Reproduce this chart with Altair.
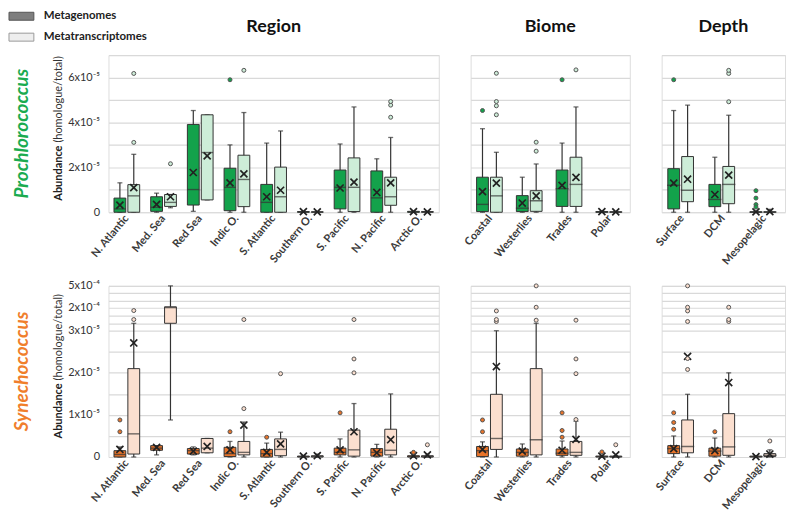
import altair as alt
import pandas as pd
import numpy as np

UNIT = 1e-5  # all box values below are in units of 1e-5 (homologue/total)

REGION = ["N. Atlantic", "Med. Sea", "Red Sea", "Indic O.", "S. Atlantic",
          "Southern O.", "S. Pacific", "N. Pacific", "Arctic O."]
BIOME = ["Coastal", "Westerlies", "Trades", "Polar"]
DEPTH = ["Surface", "DCM", "Mesopelagic"]
GROUP_NAMES = ["Region", "Biome", "Depth"]
TYPES = ["Metagenomes", "Metatranscriptomes"]
SPECIES = ["Prochlorococcus", "Synechococcus"]

# (low whisker, Q1, median, Q3, high whisker, mean)
PRO_METAG = {
    "N. Atlantic": (0, 0, 0.15, 0.63, 1.31, 0.32),
    "Med. Sea": (0, 0.04, 0.22, 0.69, 0.85, 0.35),
    "Red Sea": (0.04, 0.32, 1.01, 3.91, 4.53, 1.77),
    "Indic O.": (0, 0.07, 1.11, 1.96, 3.0, 1.31),
    "S. Atlantic": (0, 0, 0.44, 1.24, 3.08, 0.69),
    "Southern O.": (0, 0, 0.01, 0.03, 0.04, 0.03),
    "S. Pacific": (0, 0.15, 1.11, 1.88, 3.04, 1.08),
    "N. Pacific": (0, 0, 0.64, 1.84, 2.38, 0.88),
    "Arctic O.": (0, 0, 0.01, 0.04, 0.05, 0.03),
    "Coastal": (0, 0.03, 0.35, 1.56, 3.72, 0.92),
    "Westerlies": (0, 0.03, 0.18, 0.74, 1.56, 0.41),
    "Trades": (0, 0.26, 1.05, 1.88, 3.08, 1.2),
    "Polar": (0, 0, 0.01, 0.03, 0.05, 0.03),
    "Surface": (0, 0.15, 1.2, 1.94, 4.53, 1.3),
    "DCM": (0, 0.25, 0.57, 1.24, 2.45, 0.79),
    "Mesopelagic": (0, 0, 0.005, 0.02, 0.04, 0.02),
}
PRO_METAT = {
    "N. Atlantic": (0, 0, 0.73, 1.23, 2.58, 1.1),
    "Med. Sea": (0.2, 0.26, 0.44, 0.79, 0.79, 0.69),
    "Red Sea": (0.55, 0.55, 2.66, 4.34, 4.34, 2.51),
    "Indic O.": (0, 0.25, 1.46, 2.54, 4.44, 1.71),
    "S. Atlantic": (0, 0, 0.69, 2.01, 3.62, 0.98),
    "Southern O.": (0, 0, 0.01, 0.02, 0.03, 0.02),
    "S. Pacific": (0, 0.03, 1.11, 2.42, 4.69, 1.34),
    "N. Pacific": (0, 0.31, 0.69, 1.56, 3.33, 1.31),
    "Arctic O.": (0, 0, 0.01, 0.03, 0.04, 0.02),
    "Coastal": (0, 0, 0.73, 1.56, 2.67, 1.3),
    "Westerlies": (0, 0.04, 0.51, 0.96, 2.15, 0.73),
    "Trades": (0, 0.26, 1.24, 2.45, 4.69, 1.55),
    "Polar": (0, 0, 0.01, 0.02, 0.03, 0.02),
    "Surface": (0, 0.47, 0.98, 2.48, 4.77, 1.47),
    "DCM": (0, 0.38, 1.24, 2.04, 4.32, 1.65),
    "Mesopelagic": (0, 0, 0.01, 0.02, 0.13, 0.03),
}
SYN_METAG = {
    "N. Atlantic": (0, 0, 0.06, 0.15, 0.24, 0.18),
    "Med. Sea": (0.05, 0.16, 0.21, 0.27, 0.27, 0.23),
    "Red Sea": (0.05, 0.07, 0.15, 0.2, 0.24, 0.14),
    "Indic O.": (0, 0.01, 0.08, 0.23, 0.37, 0.17),
    "S. Atlantic": (0, 0, 0.08, 0.18, 0.33, 0.11),
    "Southern O.": (0, 0, 0.01, 0.02, 0.03, 0.02),
    "S. Pacific": (0, 0.05, 0.11, 0.21, 0.43, 0.17),
    "N. Pacific": (0, 0.02, 0.11, 0.2, 0.3, 0.1),
    "Arctic O.": (0, 0, 0.01, 0.03, 0.04, 0.03),
    "Coastal": (0, 0.01, 0.15, 0.25, 0.36, 0.18),
    "Westerlies": (0, 0.02, 0.11, 0.19, 0.31, 0.14),
    "Trades": (0, 0.04, 0.09, 0.19, 0.38, 0.16),
    "Polar": (0, 0, 0.01, 0.02, 0.03, 0.02),
    "Surface": (0, 0.08, 0.2, 0.27, 0.5, 0.2),
    "DCM": (0, 0.02, 0.14, 0.21, 0.45, 0.15),
    "Mesopelagic": (0, 0, 0.01, 0.02, 0.03, 0.01),
}
SYN_METAT = {
    "N. Atlantic": (0, 0.07, 0.55, 2.1, 6.4, 2.71),
    "Med. Sea": (0.88, 6.4, 20.5, 21.6, 50, None),
    "Red Sea": (0.1, 0.1, 0.21, 0.44, 0.44, 0.25),
    "Indic O.": (0, 0.05, 0.11, 0.37, 0.83, 0.76),
    "S. Atlantic": (0, 0.03, 0.18, 0.43, 0.59, 0.31),
    "Southern O.": (0, 0, 0.01, 0.03, 0.07, 0.03),
    "S. Pacific": (0, 0.02, 0.17, 0.64, 1.27, 0.6),
    "N. Pacific": (0, 0.05, 0.16, 0.66, 1.5, 0.41),
    "Arctic O.": (0, 0, 0.01, 0.03, 0.07, 0.05),
    "Coastal": (0, 0.18, 0.44, 1.49, 3.02, 2.15),
    "Westerlies": (0, 0.05, 0.41, 2.1, 6.4, None),
    "Trades": (0, 0.04, 0.11, 0.37, 0.85, 0.42),
    "Polar": (0, 0, 0.01, 0.02, 0.03, 0.05),
    "Surface": (0, 0.1, 0.25, 0.88, 1.49, 2.39),
    "DCM": (0, 0.04, 0.24, 1.03, 2.0, 1.77),
    "Mesopelagic": (0, 0.01, 0.04, 0.08, 0.17, 0.07),
}

PRO_METAG_OUT = {"Indic O.": [5.9], "Coastal": [4.53], "Trades": [5.9],
                 "Surface": [5.9], "Mesopelagic": [0.96, 0.63, 0.34, 0.23]}
PRO_METAT_OUT = {"N. Atlantic": [3.11, 6.18], "Med. Sea": [2.16], "Indic O.": [6.32],
                 "N. Pacific": [4.23, 4.77, 4.93], "Coastal": [4.34, 4.74, 4.93, 6.19],
                 "Westerlies": [2.72, 3.12], "Trades": [6.34], "DCM": [4.92, 6.18, 6.32]}
SYN_METAG_OUT = {"N. Atlantic": [0.6, 0.88], "Indic O.": [0.6], "S. Atlantic": [0.47],
                 "S. Pacific": [1.05], "Arctic O.": [0.11], "Coastal": [0.6, 0.88],
                 "Trades": [0.47, 0.63, 1.05], "Polar": [0.12],
                 "Surface": [0.66, 0.82, 1.05], "DCM": [0.6]}
SYN_METAT_OUT = {"N. Atlantic": [8.1, 16.5], "Indic O.": [1.15, 8.1],
                 "S. Atlantic": [1.98], "S. Pacific": [2.0, 2.33, 8.1],
                 "Arctic O.": [0.29], "Coastal": [7.2, 8.1, 16.0],
                 "Westerlies": [7.8, 21.0, 50.0], "Trades": [0.89, 1.98, 2.33, 7.8],
                 "Polar": [0.29], "Surface": [2.08, 2.34, 7.2, 16.0, 21.0, 50.0],
                 "DCM": [7.2, 8.1, 21.0], "Mesopelagic": [0.38]}

# axis ticks and labels
PRO_TICKS = [0, 1e-5, 2e-5, 3e-5, 4e-5, 5e-5, 6e-5, 7e-5]
PRO_LABELS = {0: "0", 2e-5: "2x10\u207b\u2075", 4e-5: "4x10\u207b\u2075", 6e-5: "6x10\u207b\u2075"}
SYN_TICKS = [0, 0.5e-5, 1e-5, 1.5e-5, 2e-5, 2.5e-5, 3e-5, 6.4e-5, 1e-4, 2e-4, 3e-4, 4e-4, 5e-4]
SYN_LABELS = {0: "0", 1e-5: "1x10\u207b\u2075", 2e-5: "2x10\u207b\u2075", 3e-5: "3x10\u207b\u2075",
              2e-4: "2x10\u207b\u2074", 5e-4: "5x10\u207b\u2074"}
SYN_BREAKS = [0, 3e-5, 1e-4, 5e-4]          # piecewise (broken) axis
SYN_BREAK_FRAC = [0, 0.7376, 0.8277, 1.0]   # share of the height below each break

# ---------------- build tables ----------------
stat_rows, out_rows = [], []
tables = {
    ("Prochlorococcus", "Metagenomes"): (PRO_METAG, PRO_METAG_OUT),
    ("Prochlorococcus", "Metatranscriptomes"): (PRO_METAT, PRO_METAT_OUT),
    ("Synechococcus", "Metagenomes"): (SYN_METAG, SYN_METAG_OUT),
    ("Synechococcus", "Metatranscriptomes"): (SYN_METAT, SYN_METAT_OUT),
}
group_of = {}
for g, cats in zip(GROUP_NAMES, [REGION, BIOME, DEPTH]):
    for c in cats:
        group_of[c] = g
for (sp, ty), (st, ol) in tables.items():
    for cat, (lo, q1, md, q3, hi, mn) in st.items():
        stat_rows.append(dict(species=sp, type=ty, group=group_of[cat], cat=cat,
                              lo=lo * UNIT, q1=q1 * UNIT, med=md * UNIT, q3=q3 * UNIT,
                              hi=hi * UNIT, mean=(np.nan if mn is None else mn * UNIT)))
    for cat, vals in ol.items():
        for v in vals:
            out_rows.append(dict(species=sp, type=ty, group=group_of[cat], cat=cat, value=v * UNIT))
stats = pd.DataFrame(stat_rows)
outl = pd.DataFrame(out_rows)

COLORS = {
    "Prochlorococcus": dict(main="#13a24b", light="#cdedd8", out="#1b5e37", label="#1aab50"),
    "Synechococcus": dict(main="#e8742a", light="#fbdfcf", out="#e0701f", label="#f07e2c"),
}
DARK = "#333333"
FONT = "Lato"


def label_expr(mapping):
    parts = [f"abs(datum.value - {v!r}) < 1e-12 ? '{lab}'" for v, lab in mapping.items()]
    return " : ".join(parts) + " : ''"


def panel(species, group, cats, width, height, first_col, first_row):
    col = COLORS[species]
    s = stats[(stats.species == species) & (stats.group == group)]
    o = outl[(outl.species == species) & (outl.group == group)]
    n = len(cats)
    step = width / (n - 0.3 + 0.3)
    box_w = step * 0.7 / 1.85 * 0.85

    if species == "Prochlorococcus":
        yscale = alt.Scale(domain=[0, 7e-5], nice=False, zero=False)
        ticks, labmap = PRO_TICKS, PRO_LABELS
    else:
        yscale = alt.Scale(domain=SYN_BREAKS, range=[height * (1 - f) for f in SYN_BREAK_FRAC],
                           nice=False, zero=False)
        ticks, labmap = SYN_TICKS, SYN_LABELS
    yax = alt.Axis(values=ticks, labelExpr=label_expr(labmap), grid=True, gridColor="#d9d9d9",
                   gridWidth=1.2, ticks=False, domain=False, labels=first_col, labelFontSize=11,
                   labelColor="#333333", labelPadding=9, title=None, labelFont=FONT)

    xax = alt.Axis(title=None, labelAngle=310, labelAlign="right", labelBaseline="middle",
                   labelFontSize=11, labelFontWeight="bold", labelColor="#3a3a3a", labelPadding=4,
                   ticks=False, domain=False, grid=False, labelFont=FONT)
    x = alt.X("cat:N", sort=cats, axis=xax,
              scale=alt.Scale(domain=cats, paddingInner=0.3, paddingOuter=0.15))
    xo = alt.XOffset("type:N", scale=alt.Scale(domain=TYPES, paddingInner=0.15, paddingOuter=0))

    base = alt.Chart(s)
    whisk = base.mark_rule(color=DARK, strokeWidth=1.2).encode(
        x=x, xOffset=xo, y=alt.Y("lo:Q", scale=yscale, axis=yax), y2="hi:Q")
    cap_hi = base.mark_tick(color=DARK, size=5, thickness=1.3).encode(
        x=x, xOffset=xo, y=alt.Y("hi:Q", scale=yscale, axis=yax))
    cap_lo = base.mark_tick(color=DARK, size=5, thickness=1.3).encode(
        x=x, xOffset=xo, y=alt.Y("lo:Q", scale=yscale, axis=yax))
    box = base.mark_bar(stroke=DARK, strokeWidth=1).encode(
        x=x, xOffset=xo, y=alt.Y("q1:Q", scale=yscale, axis=yax), y2="q3:Q",
        fill=alt.Fill("type:N", scale=alt.Scale(domain=TYPES, range=[col["main"], col["light"]]),
                      legend=None))
    med = base.mark_tick(color=DARK, size=box_w, thickness=1.4).encode(
        x=x, xOffset=xo, y=alt.Y("med:Q", scale=yscale, axis=yax))
    mean = base.transform_filter("isValid(datum.mean)").mark_point(
        shape="M-1,-1L1,1M-1,1L1,-1", filled=False, size=50, strokeWidth=1.7, color="#222222",
        opacity=1).encode(x=x, xOffset=xo, y=alt.Y("mean:Q", scale=yscale, axis=yax))
    layers = [whisk, cap_hi, cap_lo, box, med, mean]
    if len(o):
        outs = alt.Chart(o).mark_point(shape="circle", size=16, filled=True, stroke="#555555",
                                       strokeWidth=1, opacity=1).encode(
            x=x, xOffset=xo, y=alt.Y("value:Q", scale=yscale, axis=yax),
            fill=alt.Fill("type:N", scale=alt.Scale(domain=TYPES, range=[col["out"], "#ffffff"]),
                          legend=None))
        layers.append(outs)

    if first_row:
        gdf = pd.DataFrame({"t": [group]})
        layers.append(alt.Chart(gdf).mark_text(
            fontSize=18, fontWeight="bold", color="#111111", align="center", baseline="middle",
            font=FONT).encode(text="t:N", x=alt.value(width / 2), y=alt.value(-28)))

    if first_col:
        sp_df = pd.DataFrame({"t": [species]})
        layers.append(alt.Chart(sp_df).mark_text(
            angle=270, fontSize=19, fontStyle="italic", fontWeight="bold", color=col["label"],
            align="center", baseline="top", font=FONT).encode(
            text="t:N", x=alt.value(-96), y=alt.value(height / 2)))
        ab_df = pd.DataFrame({"a": ["Abundance"], "b": ["(homologue/total)"]})
        yj = height / 2 + 12
        layers.append(alt.Chart(ab_df).mark_text(
            angle=270, fontSize=11, fontWeight="bold", color="#222222", align="right",
            baseline="middle", font=FONT).encode(text="a:N", x=alt.value(-50), y=alt.value(yj)))
        layers.append(alt.Chart(ab_df).mark_text(
            angle=270, fontSize=11, color="#333333", align="left",
            baseline="middle", font=FONT).encode(text="b:N", x=alt.value(-50), y=alt.value(yj - 3)))
        if first_row:
            for i, (lab, fill, stroke) in enumerate(zip(TYPES, ["#7f7f7f", "#eeeeee"],
                                                        ["#555555", "#999999"])):
                ldf = pd.DataFrame({"t": [lab]})
                yc = -39 + 21 * i
                layers.append(alt.Chart(ldf).mark_rect(fill=fill, stroke=stroke, strokeWidth=1).encode(
                    x=alt.value(-100), x2=alt.value(-75), y=alt.value(yc - 4), y2=alt.value(yc + 4)))
                layers.append(alt.Chart(ldf).mark_text(
                    fontSize=11.5, fontWeight="bold", color="#222222", align="left",
                    baseline="middle", font=FONT).encode(
                    text="t:N", x=alt.value(-65), y=alt.value(yc)))

    return alt.layer(*layers).properties(width=width, height=height)


WIDTHS = [332, 160, 124]
HEIGHTS = {"Prochlorococcus": 158, "Synechococcus": 172}
rows = []
for r, sp in enumerate(SPECIES):
    cells = []
    for c, (g, cats) in enumerate(zip(GROUP_NAMES, [REGION, BIOME, DEPTH])):
        cells.append(panel(sp, g, cats, WIDTHS[c], HEIGHTS[sp], c == 0, r == 0))
    rows.append(alt.hconcat(*cells, spacing=22).resolve_scale(
        x="independent", y="independent", fill="independent"))

chart = alt.vconcat(*rows, spacing=12).resolve_scale(
    x="independent", y="independent", fill="independent").properties(padding=0).configure_view(
    stroke=None).configure(font=FONT)

chart.save("out.html", embed_options={"renderer": "svg", "actions": False})
